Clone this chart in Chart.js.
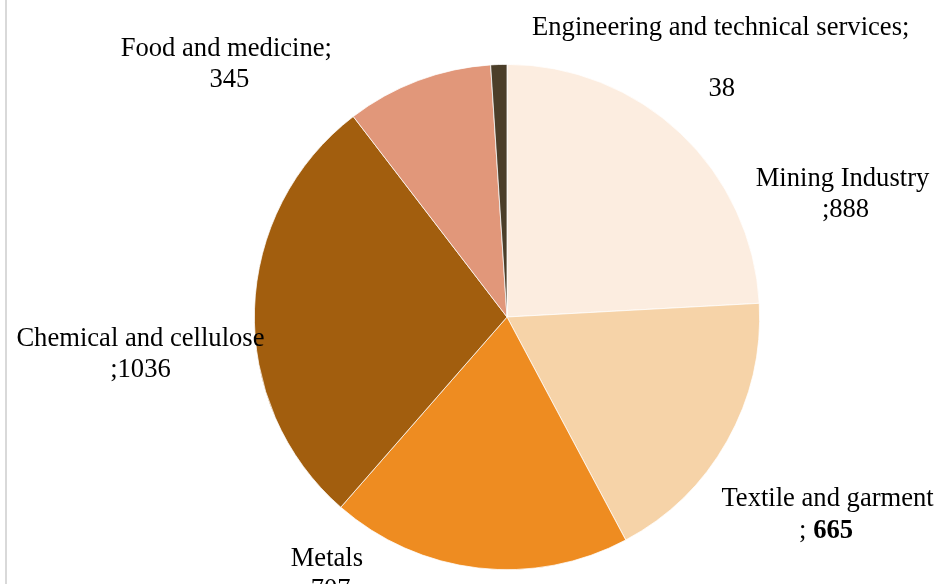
<!DOCTYPE html>
<html>
<head>
<meta charset="utf-8">
<script src="https://cdn.jsdelivr.net/npm/chart.js@4"></script>
<style>
  html, body { margin: 0; padding: 0; background: #fff; }
  #wrap { width: 947px; height: 584px; position: relative; overflow: hidden; }
</style>
</head>
<body>
<div id="wrap"><canvas id="c" width="947" height="584"></canvas></div>
<script>
const categories = ["Mining Industry", "Textile and garment", "Metals", "Chemical and cellulose", "Food and medicine", "Engineering and technical services"];
const values = [888, 665, 707, 1036, 345, 38];
const colors = ["#FCEDE0", "#F6D3A8", "#EE8C21", "#A25E0E", "#E1977A", "#4B3E29"];

// label layout: line positions relative to pie centre, in units of radius
const labelLayout = [
  { l1: [1.328, -0.545], l2: [1.340, -0.423], sepFirst: true,  bold: false },
  { l1: [1.269, 0.722],  l2: [1.263, 0.849],  sepFirst: true,  bold: true, space: true },
  { l1: [-0.713, 0.957], l2: [-0.713, 1.079], sepFirst: true,  bold: false },
  { l1: [-1.451, 0.087], l2: [-1.451, 0.210], sepFirst: true,  bold: false },
  { l1: [-1.111, -1.060], l2: [-1.099, -0.938], sepFirst: false, bold: false },
  { l1: [0.846, -1.142], l2: [0.850, -0.901], sepFirst: false, bold: false }
];

const FONT = '"Liberation Serif", "Times New Roman", serif';
const FS = 26.6;

const labelsPlugin = {
  id: 'pieLabels',
  afterDatasetsDraw(chart) {
    const ctx = chart.ctx;
    const meta = chart.getDatasetMeta(0);
    const arc0 = meta.data[0];
    const cx = arc0.x, cy = arc0.y, R = arc0.outerRadius;
    ctx.save();
    ctx.fillStyle = '#000';
    ctx.textBaseline = 'middle';
    categories.forEach((cat, i) => {
      const L = labelLayout[i];
      const v = String(values[i]);
      const line1 = L.sepFirst ? cat : cat + ';';
      ctx.textAlign = 'center';
      ctx.font = FS + 'px ' + FONT;
      ctx.fillText(line1, cx + L.l1[0] * R, cy + L.l1[1] * R);
      const x2 = cx + L.l2[0] * R, y2 = cy + L.l2[1] * R;
      if (L.sepFirst) {
        const pre = L.space ? '; ' : ';';
        ctx.font = FS + 'px ' + FONT;
        const w1 = ctx.measureText(pre).width;
        ctx.font = (L.bold ? 'bold ' : '') + FS + 'px ' + FONT;
        const w2 = ctx.measureText(v).width;
        const start = x2 - (w1 + w2) / 2;
        ctx.textAlign = 'left';
        ctx.font = FS + 'px ' + FONT;
        ctx.fillText(pre, start, y2);
        ctx.font = (L.bold ? 'bold ' : '') + FS + 'px ' + FONT;
        ctx.fillText(v, start + w1, y2);
      } else {
        ctx.font = FS + 'px ' + FONT;
        ctx.fillText(v, x2, y2);
      }
    });
    ctx.restore();
  },
  beforeDraw(chart) {
    const ctx = chart.ctx;
    ctx.save();
    ctx.strokeStyle = '#D9D9D9';
    ctx.lineWidth = 2;
    ctx.beginPath();
    ctx.moveTo(6, 0);
    ctx.lineTo(6, chart.height);
    ctx.stroke();
    ctx.restore();
  }
};

new Chart(document.getElementById('c'), {
  type: 'pie',
  data: {
    labels: categories,
    datasets: [{
      data: values,
      backgroundColor: colors,
      borderColor: '#FFFFFF',
      borderWidth: 0.75
    }]
  },
  options: {
    responsive: false,
    devicePixelRatio: 1,
    animation: false,
    layout: { padding: { left: 254, right: 187, top: 64, bottom: 14 } },
    plugins: {
      legend: { display: false },
      tooltip: { enabled: false },
      title: { display: false }
    }
  },
  plugins: [labelsPlugin]
});
</script>
</body>
</html>
